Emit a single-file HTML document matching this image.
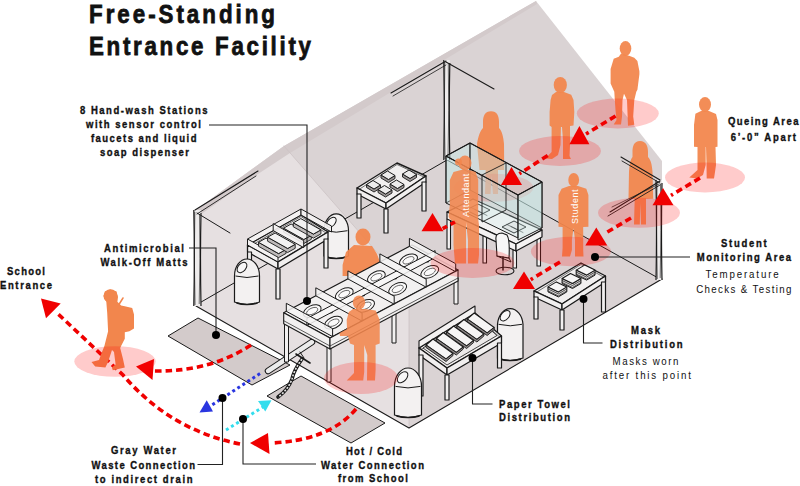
<!DOCTYPE html>
<html><head><meta charset="utf-8">
<style>
html,body{margin:0;padding:0;background:#fff;width:800px;height:486px;overflow:hidden}
svg{display:block}
text{font-family:"Liberation Sans",sans-serif}
.b{font-weight:bold;font-size:10.8px;stroke:#111;stroke-width:0.35px}
.r{font-size:10.8px}
.t{font-weight:bold;font-size:26px;stroke:#111;stroke-width:0.8px}
</style></head><body>
<svg width="800" height="486" viewBox="0 0 800 486">
<polygon points="196.0,210.0 284.0,146.0 536.0,1.0 662.0,161.0 662.0,279.0 409.0,428.0 196.0,306.0" fill="#dad3d4" stroke="none" stroke-width="1" stroke-linejoin="round" />
<polygon points="196.0,210.0 284.0,146.0 409.0,289.0 409.0,428.0 196.0,306.0" fill="#e6e0e1" stroke="none" stroke-width="1" stroke-linejoin="round" />
<polygon points="196.0,210.0 284.0,146.0 536.0,1.0 537.0,4.0 290.0,153.0 258.0,174.0 200.0,215.0" fill="#d3cacb" stroke="none" stroke-width="1" stroke-linejoin="round" />
<polyline points="284.0,146.0 409.0,289.0 409.0,428.0" fill="none" stroke="#cbc3c4" stroke-width="0.8" stroke-linecap="round" stroke-linejoin="round" />
<polygon points="168.0,336.0 198.0,318.0 290.0,365.0 252.0,385.0" fill="#d3cbcb" stroke="#1a1a1a" stroke-width="1" stroke-linejoin="round" />
<polygon points="267.0,396.0 301.0,376.0 385.0,423.0 351.0,443.0" fill="#d3cbcb" stroke="#1a1a1a" stroke-width="1" stroke-linejoin="round" />
<polyline points="196.0,306.0 409.0,428.0 662.0,279.0" fill="none" stroke="#1a1a1a" stroke-width="1.1" stroke-linecap="round" stroke-linejoin="round" />
<polyline points="196.0,305.0 447.0,160.0" fill="none" stroke="#1a1a1a" stroke-width="1.0" stroke-linecap="round" stroke-linejoin="round" />
<polyline points="447.0,160.0 660.0,279.0" fill="none" stroke="#1a1a1a" stroke-width="1.0" stroke-linecap="round" stroke-linejoin="round" />
<rect x="193.8" y="210" width="7.199999999999989" height="96" fill="#eeecec"/>
<path d="M193.8,210 Q194.8,258.0 193.8,306" fill="none" stroke="#1a1a1a" stroke-width="1.2"/>
<path d="M194.8,212 Q193.8,258.0 195.0,305" fill="none" stroke="#1a1a1a" stroke-width="0.7"/>
<path d="M201,213 Q200,258.0 201,306" fill="none" stroke="#1a1a1a" stroke-width="1.2"/>
<path d="M199.5,214 Q200.5,258.0 199.2,304" fill="none" stroke="#1a1a1a" stroke-width="0.6"/>
<rect x="443.8" y="60" width="6.0" height="100" fill="#eeecec"/>
<path d="M443.8,60 Q444.8,110.0 443.8,160" fill="none" stroke="#1a1a1a" stroke-width="1.2"/>
<path d="M444.8,62 Q443.8,110.0 445.0,159" fill="none" stroke="#1a1a1a" stroke-width="0.7"/>
<path d="M449.8,63 Q448.8,110.0 449.8,160" fill="none" stroke="#1a1a1a" stroke-width="1.2"/>
<path d="M448.3,64 Q449.3,110.0 448.0,158" fill="none" stroke="#1a1a1a" stroke-width="0.6"/>
<rect x="656" y="180" width="6" height="100" fill="#eeecec"/>
<path d="M656,180 Q657,230.0 656,280" fill="none" stroke="#1a1a1a" stroke-width="1.2"/>
<path d="M657,182 Q656,230.0 657.2,279" fill="none" stroke="#1a1a1a" stroke-width="0.7"/>
<path d="M662,183 Q661,230.0 662,280" fill="none" stroke="#1a1a1a" stroke-width="1.2"/>
<path d="M660.5,184 Q661.5,230.0 660.2,278" fill="none" stroke="#1a1a1a" stroke-width="0.6"/>
<polyline points="195.0,210.0 258.0,171.0" fill="none" stroke="#1a1a1a" stroke-width="1.1" stroke-linecap="round" stroke-linejoin="round" />
<polyline points="197.0,214.0 256.0,176.0" fill="none" stroke="#1a1a1a" stroke-width="0.9" stroke-linecap="round" stroke-linejoin="round" />
<polyline points="197.0,213.0 230.0,233.0" fill="none" stroke="#1a1a1a" stroke-width="1.0" stroke-linecap="round" stroke-linejoin="round" />
<polyline points="391.0,93.0 446.0,61.0" fill="none" stroke="#1a1a1a" stroke-width="1.1" stroke-linecap="round" stroke-linejoin="round" />
<polyline points="393.0,96.0 446.0,65.0" fill="none" stroke="#1a1a1a" stroke-width="0.8" stroke-linecap="round" stroke-linejoin="round" />
<polyline points="446.0,62.0 494.0,89.0" fill="none" stroke="#1a1a1a" stroke-width="1.1" stroke-linecap="round" stroke-linejoin="round" />
<path d="M268,371 L312,342" fill="none" stroke="#1a1a1a" stroke-width="6.5" stroke-linecap="round"/>
<path d="M268,371 L312,342" fill="none" stroke="#ececec" stroke-width="4.5" stroke-linecap="round"/>
<polyline points="300.0,352.0 304.0,358.0" fill="none" stroke="#1a1a1a" stroke-width="1" stroke-linecap="round" stroke-linejoin="round" />
<path d="M302,359 Q294,370 292,379 Q288,390 278,397" fill="none" stroke="#1a1a1a" stroke-width="3.6" stroke-linecap="round"/>
<path d="M302,359 Q294,370 292,379 Q288,390 278,397" fill="none" stroke="#e5e5e5" stroke-width="1.6" stroke-dasharray="2 1.5"/>
<polyline points="296.0,354.0 310.0,363.0" fill="none" stroke="#1a1a1a" stroke-width="1.6" stroke-linecap="round" stroke-linejoin="round" />
<path d="M324,230.7 A12.2,16.7 0 0 1 348.5,230.7 L348.5,256 Q336.25,261 324,256 Z" fill="#f3f1f1" stroke="#1a1a1a" stroke-width="1.2"/>
<path d="M325,230.7 Q336.25,233.7 347.5,230.7" fill="none" stroke="#1a1a1a" stroke-width="1"/>
<ellipse cx="331.4" cy="222.3" rx="5.9" ry="3.7" transform="rotate(-48 331.4 222.3)" fill="#f8f7f7" stroke="#1a1a1a" stroke-width="1"/>
<path d="M326,257 Q336.25,260 346.5,257" fill="none" stroke="#1a1a1a" stroke-width="1.6"/>
<polygon points="247.5,245.0 301.0,215.0 328.0,232.0 278.0,262.0" fill="#f1efef" stroke="#1a1a1a" stroke-width="1.4" stroke-linejoin="round" />
<polygon points="247.5,245.0 278.0,262.0 278.0,269.0 247.5,252.0" fill="#f1efef" stroke="#1a1a1a" stroke-width="1.3" stroke-linejoin="round" />
<polygon points="278.0,262.0 328.0,232.0 328.0,239.0 278.0,269.0" fill="#f1efef" stroke="#1a1a1a" stroke-width="1.3" stroke-linejoin="round" />
<polyline points="249.5,246.5 301.0,216.5 326.0,233.0" fill="none" stroke="#1a1a1a" stroke-width="0.6" stroke-linecap="round" stroke-linejoin="round" />
<polygon points="247.5,252.0 251.5,252.0 251.5,283.0 247.5,283.0" fill="#f1efef" stroke="#1a1a1a" stroke-width="1.2" stroke-linejoin="round" />
<polygon points="276.0,269.0 280.0,269.0 280.0,299.0 276.0,299.0" fill="#f1efef" stroke="#1a1a1a" stroke-width="1.2" stroke-linejoin="round" />
<polygon points="324.0,239.0 328.0,239.0 328.0,268.0 324.0,268.0" fill="#f1efef" stroke="#1a1a1a" stroke-width="1.2" stroke-linejoin="round" />
<polygon points="247.5,245.0 301.0,215.0 301.0,209.0 247.5,239.0" fill="#f4f2f2" stroke="#1a1a1a" stroke-width="1.0" stroke-linejoin="round" />
<polygon points="247.5,245.0 278.0,262.0 278.0,256.0 247.5,239.0" fill="#f4f2f2" stroke="#1a1a1a" stroke-width="1.0" stroke-linejoin="round" />
<polygon points="258.5,242.3 278.6,253.6 286.1,249.4 286.1,253.4 278.6,257.6 258.5,246.3" fill="#bdb9b9" stroke="#1a1a1a" stroke-width="0.9" stroke-linejoin="round" />
<polygon points="258.5,242.3 266.0,238.1 286.1,249.4 278.6,253.6" fill="#f2f1f1" stroke="#1a1a1a" stroke-width="1.0" stroke-linejoin="round" />
<polygon points="267.6,237.2 287.7,248.5 295.2,244.3 295.2,248.3 287.7,252.5 267.6,241.2" fill="#bdb9b9" stroke="#1a1a1a" stroke-width="0.9" stroke-linejoin="round" />
<polygon points="267.6,237.2 275.1,233.0 295.2,244.3 287.7,248.5" fill="#f2f1f1" stroke="#1a1a1a" stroke-width="1.0" stroke-linejoin="round" />
<polygon points="283.6,228.2 303.8,239.5 311.3,235.3 311.3,239.3 303.8,243.5 283.6,232.2" fill="#bdb9b9" stroke="#1a1a1a" stroke-width="0.9" stroke-linejoin="round" />
<polygon points="283.6,228.2 291.1,224.0 311.3,235.3 303.8,239.5" fill="#f2f1f1" stroke="#1a1a1a" stroke-width="1.0" stroke-linejoin="round" />
<polygon points="293.3,222.8 313.4,234.1 320.9,229.9 320.9,233.9 313.4,238.1 293.3,226.8" fill="#bdb9b9" stroke="#1a1a1a" stroke-width="0.9" stroke-linejoin="round" />
<polygon points="293.3,222.8 300.8,218.6 320.9,229.9 313.4,234.1" fill="#f2f1f1" stroke="#1a1a1a" stroke-width="1.0" stroke-linejoin="round" />
<polygon points="273.2,230.6 303.7,247.6 303.7,240.6 273.2,223.6" fill="#f4f2f2" stroke="#1a1a1a" stroke-width="1.0" stroke-linejoin="round" fill-opacity="0.9"/>
<polygon points="301.0,215.0 331.5,232.0 331.5,226.0 301.0,209.0" fill="#f4f2f2" stroke="#1a1a1a" stroke-width="1.0" stroke-linejoin="round" fill-opacity="0.9"/>
<path d="M234.5,276.0 A12.5,17.0 0 0 1 259.5,276.0 L259.5,302 Q247.0,307 234.5,302 Z" fill="#f3f1f1" stroke="#1a1a1a" stroke-width="1.2"/>
<path d="M235.5,276.0 Q247.0,279.0 258.5,276.0" fill="none" stroke="#1a1a1a" stroke-width="1"/>
<ellipse cx="242.0" cy="267.5" rx="6.0" ry="3.8" transform="rotate(-48 242.0 267.5)" fill="#f8f7f7" stroke="#1a1a1a" stroke-width="1"/>
<path d="M236.5,303 Q247.0,306 257.5,303" fill="none" stroke="#1a1a1a" stroke-width="1.6"/>
<polygon points="357.0,188.0 397.0,163.0 426.0,176.0 386.0,203.0" fill="#f1efef" stroke="#1a1a1a" stroke-width="1.4" stroke-linejoin="round" />
<polygon points="357.0,188.0 386.0,203.0 386.0,209.0 357.0,194.0" fill="#f1efef" stroke="#1a1a1a" stroke-width="1.3" stroke-linejoin="round" />
<polygon points="386.0,203.0 426.0,176.0 426.0,182.0 386.0,209.0" fill="#f1efef" stroke="#1a1a1a" stroke-width="1.3" stroke-linejoin="round" />
<polyline points="359.0,189.5 397.0,164.5 424.0,177.0" fill="none" stroke="#1a1a1a" stroke-width="0.6" stroke-linecap="round" stroke-linejoin="round" />
<polygon points="357.0,194.0 361.0,194.0 361.0,218.0 357.0,218.0" fill="#f1efef" stroke="#1a1a1a" stroke-width="1.2" stroke-linejoin="round" />
<polygon points="384.0,209.0 388.0,209.0 388.0,233.0 384.0,233.0" fill="#f1efef" stroke="#1a1a1a" stroke-width="1.2" stroke-linejoin="round" />
<polygon points="422.0,182.0 426.0,182.0 426.0,211.0 422.0,211.0" fill="#f1efef" stroke="#1a1a1a" stroke-width="1.2" stroke-linejoin="round" />
<polygon points="366.5,184.5 374.0,189.0 380.5,185.0 380.5,188.0 374.0,192.0 366.5,187.5" fill="#9a9595" stroke="#1a1a1a" stroke-width="0.9" stroke-linejoin="round" />
<polygon points="366.5,184.5 373.0,180.5 380.5,185.0 374.0,189.0" fill="#ecebeb" stroke="#1a1a1a" stroke-width="1.0" stroke-linejoin="round" />
<polygon points="381.0,175.0 388.5,179.5 395.0,175.5 395.0,178.5 388.5,182.5 381.0,178.0" fill="#9a9595" stroke="#1a1a1a" stroke-width="0.9" stroke-linejoin="round" />
<polygon points="381.0,175.0 387.5,171.0 395.0,175.5 388.5,179.5" fill="#ecebeb" stroke="#1a1a1a" stroke-width="1.0" stroke-linejoin="round" />
<polygon points="402.5,174.0 410.0,178.5 416.5,174.5 416.5,177.5 410.0,181.5 402.5,177.0" fill="#9a9595" stroke="#1a1a1a" stroke-width="0.9" stroke-linejoin="round" />
<polygon points="402.5,174.0 409.0,170.0 416.5,174.5 410.0,178.5" fill="#ecebeb" stroke="#1a1a1a" stroke-width="1.0" stroke-linejoin="round" />
<polygon points="390.0,184.0 397.5,188.5 404.0,184.5 404.0,187.5 397.5,191.5 390.0,187.0" fill="#9a9595" stroke="#1a1a1a" stroke-width="0.9" stroke-linejoin="round" />
<polygon points="390.0,184.0 396.5,180.0 404.0,184.5 397.5,188.5" fill="#ecebeb" stroke="#1a1a1a" stroke-width="1.0" stroke-linejoin="round" />
<polygon points="378.0,189.5 385.5,194.0 392.0,190.0 392.0,193.0 385.5,197.0 378.0,192.5" fill="#9a9595" stroke="#1a1a1a" stroke-width="0.9" stroke-linejoin="round" />
<polygon points="378.0,189.5 384.5,185.5 392.0,190.0 385.5,194.0" fill="#ecebeb" stroke="#1a1a1a" stroke-width="1.0" stroke-linejoin="round" />
<ellipse cx="363" cy="237" rx="7.5" ry="8.5" fill="#f2864d" fill-opacity="0.94"/>
<polygon points="354.0,245.0 372.0,246.0 377.0,254.0 380.0,262.0 386.0,266.0 385.0,272.0 375.0,271.0 372.0,276.0 342.6,276.0 342.6,265.0 346.0,252.0" fill="#f2864d" fill-opacity="0.94"/>
<polygon points="284.5,320.0 288.5,320.0 288.5,362.0 284.5,362.0" fill="#f2f0f0" stroke="#1a1a1a" stroke-width="1.0" stroke-linejoin="round" />
<polygon points="327.0,346.0 331.0,346.0 331.0,382.0 327.0,382.0" fill="#f2f0f0" stroke="#1a1a1a" stroke-width="1.0" stroke-linejoin="round" />
<polygon points="392.0,311.0 396.0,311.0 396.0,343.0 392.0,343.0" fill="#f2f0f0" stroke="#1a1a1a" stroke-width="1.0" stroke-linejoin="round" />
<polygon points="454.0,278.0 458.0,278.0 458.0,304.0 454.0,304.0" fill="#f2f0f0" stroke="#1a1a1a" stroke-width="1.0" stroke-linejoin="round" />
<polygon points="352.0,288.0 356.0,288.0 356.0,308.0 352.0,308.0" fill="#f2f0f0" stroke="#1a1a1a" stroke-width="1.0" stroke-linejoin="round" />
<polygon points="283.7,312.7 412.0,245.0 458.0,270.0 330.0,338.0" fill="#f2f0f0" stroke="#1a1a1a" stroke-width="1.2" stroke-linejoin="round" />
<polygon points="283.7,312.7 330.0,338.0 330.0,349.0 283.7,323.7" fill="#f2f0f0" stroke="#1a1a1a" stroke-width="1.1" stroke-linejoin="round" />
<polygon points="330.0,338.0 458.0,270.0 458.0,281.0 330.0,349.0" fill="#f2f0f0" stroke="#1a1a1a" stroke-width="1.1" stroke-linejoin="round" />
<polyline points="283.7,320.7 330.0,346.0 458.0,278.0" fill="none" stroke="#1a1a1a" stroke-width="0.7" stroke-linecap="round" stroke-linejoin="round" />
<ellipse cx="312.2" cy="311.1" rx="9.5" ry="5.5" transform="rotate(-25 312.2 311.1)" fill="#fbfafa" stroke="#1a1a1a" stroke-width="1"/>
<ellipse cx="312.2" cy="311.1" rx="6" ry="3" transform="rotate(-25 312.2 311.1)" fill="none" stroke="#1a1a1a" stroke-width="0.6"/>
<circle cx="325.0" cy="311.2" r="2.2" fill="#222"/>
<ellipse cx="344.3" cy="294.1" rx="9.5" ry="5.5" transform="rotate(-25 344.3 294.1)" fill="#fbfafa" stroke="#1a1a1a" stroke-width="1"/>
<ellipse cx="344.3" cy="294.1" rx="6" ry="3" transform="rotate(-25 344.3 294.1)" fill="none" stroke="#1a1a1a" stroke-width="0.6"/>
<circle cx="357.1" cy="294.3" r="2.2" fill="#222"/>
<ellipse cx="376.4" cy="277.2" rx="9.5" ry="5.5" transform="rotate(-25 376.4 277.2)" fill="#fbfafa" stroke="#1a1a1a" stroke-width="1"/>
<ellipse cx="376.4" cy="277.2" rx="6" ry="3" transform="rotate(-25 376.4 277.2)" fill="none" stroke="#1a1a1a" stroke-width="0.6"/>
<circle cx="389.2" cy="277.3" r="2.2" fill="#222"/>
<ellipse cx="408.5" cy="260.3" rx="9.5" ry="5.5" transform="rotate(-25 408.5 260.3)" fill="#fbfafa" stroke="#1a1a1a" stroke-width="1"/>
<ellipse cx="408.5" cy="260.3" rx="6" ry="3" transform="rotate(-25 408.5 260.3)" fill="none" stroke="#1a1a1a" stroke-width="0.6"/>
<circle cx="421.2" cy="260.4" r="2.2" fill="#222"/>
<ellipse cx="333.5" cy="322.7" rx="9.5" ry="5.5" transform="rotate(-25 333.5 322.7)" fill="#fbfafa" stroke="#1a1a1a" stroke-width="1"/>
<ellipse cx="333.5" cy="322.7" rx="6" ry="3" transform="rotate(-25 333.5 322.7)" fill="none" stroke="#1a1a1a" stroke-width="0.6"/>
<circle cx="331.0" cy="311.2" r="2.2" fill="#222"/>
<ellipse cx="365.6" cy="305.8" rx="9.5" ry="5.5" transform="rotate(-25 365.6 305.8)" fill="#fbfafa" stroke="#1a1a1a" stroke-width="1"/>
<ellipse cx="365.6" cy="305.8" rx="6" ry="3" transform="rotate(-25 365.6 305.8)" fill="none" stroke="#1a1a1a" stroke-width="0.6"/>
<circle cx="363.1" cy="294.3" r="2.2" fill="#222"/>
<ellipse cx="397.7" cy="288.9" rx="9.5" ry="5.5" transform="rotate(-25 397.7 288.9)" fill="#fbfafa" stroke="#1a1a1a" stroke-width="1"/>
<ellipse cx="397.7" cy="288.9" rx="6" ry="3" transform="rotate(-25 397.7 288.9)" fill="none" stroke="#1a1a1a" stroke-width="0.6"/>
<circle cx="395.2" cy="277.3" r="2.2" fill="#222"/>
<ellipse cx="429.8" cy="271.9" rx="9.5" ry="5.5" transform="rotate(-25 429.8 271.9)" fill="#fbfafa" stroke="#1a1a1a" stroke-width="1"/>
<ellipse cx="429.8" cy="271.9" rx="6" ry="3" transform="rotate(-25 429.8 271.9)" fill="none" stroke="#1a1a1a" stroke-width="0.6"/>
<circle cx="427.2" cy="260.4" r="2.2" fill="#222"/>
<polygon points="306.9,325.4 435.1,257.6 435.1,250.6 306.9,318.4" fill="#f7f6f6" stroke="#1a1a1a" stroke-width="1.0" stroke-linejoin="round" />
<polygon points="286.3,311.3 332.6,336.6 332.6,328.6 286.3,303.3" fill="#f5f3f3" stroke="#1a1a1a" stroke-width="1.0" stroke-linejoin="round" fill-opacity="0.85"/>
<polygon points="315.8,295.8 362.1,321.1 362.1,313.1 315.8,287.8" fill="#f5f3f3" stroke="#1a1a1a" stroke-width="1.0" stroke-linejoin="round" fill-opacity="0.85"/>
<polygon points="347.9,278.9 394.2,304.2 394.2,296.2 347.9,270.9" fill="#f5f3f3" stroke="#1a1a1a" stroke-width="1.0" stroke-linejoin="round" fill-opacity="0.85"/>
<polygon points="379.9,261.9 426.2,287.2 426.2,279.2 379.9,253.9" fill="#f5f3f3" stroke="#1a1a1a" stroke-width="1.0" stroke-linejoin="round" fill-opacity="0.85"/>
<polygon points="409.4,246.4 455.7,271.7 455.7,263.7 409.4,238.4" fill="#f5f3f3" stroke="#1a1a1a" stroke-width="1.0" stroke-linejoin="round" fill-opacity="0.85"/>
<path d="M491,111.3 C497,111.3 499,116 499,122 L499,128 C502,131 503.5,137 504,144 L504.2,170 L498,170 L498,194 L493,194 L491.5,176 L490.5,194 L485,194 L485.7,170 L479.5,170 L477,144 C478,137 480,131 483,128 L483,122 C483,116 485,111.3 491,111.3 Z" fill="#f2864d" fill-opacity="0.94"/>
<ellipse cx="493.5" cy="187.75" rx="40" ry="14" fill="#ff0808" fill-opacity="0.21"/>
<polygon points="446.0,156.0 470.0,143.0 470.0,190.0 446.0,203.0" fill="#c6e8e6" stroke="#1a1a1a" stroke-width="0.9" stroke-linejoin="round" fill-opacity="0.45"/>
<polygon points="470.0,143.0 542.0,182.0 542.0,228.0 470.0,190.0" fill="#c6e8e6" stroke="#1a1a1a" stroke-width="0.9" stroke-linejoin="round" fill-opacity="0.4"/>
<polygon points="447.0,219.0 450.5,219.0 450.5,249.0 447.0,249.0" fill="#f4f2f2" stroke="#1a1a1a" stroke-width="1.1" stroke-linejoin="round" />
<polygon points="483.0,236.0 486.5,236.0 486.5,263.0 483.0,263.0" fill="#f4f2f2" stroke="#1a1a1a" stroke-width="1.1" stroke-linejoin="round" />
<polygon points="513.0,250.0 516.5,250.0 516.5,268.0 513.0,268.0" fill="#f4f2f2" stroke="#1a1a1a" stroke-width="1.1" stroke-linejoin="round" />
<polygon points="537.0,236.0 540.5,236.0 540.5,266.0 537.0,266.0" fill="#f4f2f2" stroke="#1a1a1a" stroke-width="1.1" stroke-linejoin="round" />
<polygon points="447.0,212.0 473.0,199.0 542.0,230.0 516.0,244.0" fill="#f4f2f2" stroke="#1a1a1a" stroke-width="1.3" stroke-linejoin="round" />
<polygon points="447.0,212.0 516.0,244.0 516.0,251.0 447.0,219.0" fill="#f4f2f2" stroke="#1a1a1a" stroke-width="1.2" stroke-linejoin="round" />
<polygon points="516.0,244.0 542.0,230.0 542.0,237.0 516.0,251.0" fill="#f4f2f2" stroke="#1a1a1a" stroke-width="1.2" stroke-linejoin="round" />
<polygon points="466.0,210.0 478.0,204.0 490.0,210.0 478.0,216.0" fill="#e9e7e7" stroke="#1a1a1a" stroke-width="1.0" stroke-linejoin="round" />
<polyline points="471.0,207.5 479.0,211.5" fill="none" stroke="#1a1a1a" stroke-width="0.6" stroke-linecap="round" stroke-linejoin="round" />
<polyline points="475.0,209.5 483.0,213.5" fill="none" stroke="#1a1a1a" stroke-width="0.6" stroke-linecap="round" stroke-linejoin="round" />
<polyline points="479.0,211.5 487.0,215.5" fill="none" stroke="#1a1a1a" stroke-width="0.6" stroke-linecap="round" stroke-linejoin="round" />
<polygon points="502.0,227.0 514.0,221.0 526.0,227.0 514.0,233.0" fill="#e9e7e7" stroke="#1a1a1a" stroke-width="1.0" stroke-linejoin="round" />
<polyline points="507.0,224.5 515.0,228.5" fill="none" stroke="#1a1a1a" stroke-width="0.6" stroke-linecap="round" stroke-linejoin="round" />
<polyline points="511.0,226.5 519.0,230.5" fill="none" stroke="#1a1a1a" stroke-width="0.6" stroke-linecap="round" stroke-linejoin="round" />
<polyline points="515.0,228.5 523.0,232.5" fill="none" stroke="#1a1a1a" stroke-width="0.6" stroke-linecap="round" stroke-linejoin="round" />
<polygon points="446.0,156.0 518.0,195.0 518.0,238.0 446.0,203.0" fill="#c6e8e6" stroke="#1a1a1a" stroke-width="1.0" stroke-linejoin="round" fill-opacity="0.22"/>
<polygon points="518.0,195.0 542.0,182.0 542.0,228.0 518.0,240.0" fill="#c6e8e6" stroke="#1a1a1a" stroke-width="1.0" stroke-linejoin="round" fill-opacity="0.35"/>
<polygon points="482.0,175.0 506.0,163.0 506.0,210.0 482.0,222.0" fill="#c6e8e6" stroke="#1a1a1a" stroke-width="0.9" stroke-linejoin="round" fill-opacity="0.15"/>
<polyline points="446.0,156.0 470.0,143.0 542.0,182.0 518.0,195.0 446.0,156.0" fill="none" stroke="#1a1a1a" stroke-width="1.1" stroke-linecap="round" stroke-linejoin="round" />
<path d="M496,240 Q495,233 502,233 L507,235 Q510,240 509,258 L497,256 Z" fill="#f7f6f6" stroke="#1a1a1a" stroke-width="1.1"/>
<ellipse cx="505" cy="271" rx="9" ry="3.8" fill="none" stroke="#1a1a1a" stroke-width="1.1"/>
<polyline points="503.0,257.0 503.0,270.0" fill="none" stroke="#1a1a1a" stroke-width="1.5" stroke-linecap="round" stroke-linejoin="round" />
<polyline points="497.0,256.0 511.0,262.0 509.0,258.0" fill="none" stroke="#1a1a1a" stroke-width="1.0" stroke-linecap="round" stroke-linejoin="round" />
<polygon points="534.0,291.0 581.0,263.0 605.5,276.0 562.0,304.0" fill="#f1efef" stroke="#1a1a1a" stroke-width="1.4" stroke-linejoin="round" />
<polygon points="534.0,291.0 562.0,304.0 562.0,310.0 534.0,297.0" fill="#f1efef" stroke="#1a1a1a" stroke-width="1.3" stroke-linejoin="round" />
<polygon points="562.0,304.0 605.5,276.0 605.5,282.0 562.0,310.0" fill="#f1efef" stroke="#1a1a1a" stroke-width="1.3" stroke-linejoin="round" />
<polyline points="536.0,292.5 581.0,264.5 603.5,277.0" fill="none" stroke="#1a1a1a" stroke-width="0.6" stroke-linecap="round" stroke-linejoin="round" />
<polygon points="534.0,297.0 538.0,297.0 538.0,319.0 534.0,319.0" fill="#f1efef" stroke="#1a1a1a" stroke-width="1.2" stroke-linejoin="round" />
<polygon points="560.0,310.0 564.0,310.0 564.0,330.0 560.0,330.0" fill="#f1efef" stroke="#1a1a1a" stroke-width="1.2" stroke-linejoin="round" />
<polygon points="601.5,282.0 605.5,282.0 605.5,312.0 601.5,312.0" fill="#f1efef" stroke="#1a1a1a" stroke-width="1.2" stroke-linejoin="round" />
<polygon points="548.0,286.9 558.4,291.9 566.8,286.9 566.8,291.9 558.4,296.9 548.0,291.9" fill="#d9d6d6" stroke="#1a1a1a" stroke-width="1.0" stroke-linejoin="round" />
<polyline points="548.0,288.9 558.4,293.9 566.8,288.9" fill="none" stroke="#1a1a1a" stroke-width="0.7" stroke-linecap="round" stroke-linejoin="round" />
<polyline points="548.0,290.9 558.4,295.9 566.8,290.9" fill="none" stroke="#1a1a1a" stroke-width="0.7" stroke-linecap="round" stroke-linejoin="round" />
<polygon points="548.0,286.9 556.4,281.9 566.8,286.9 558.4,291.9" fill="#f7f6f6" stroke="#1a1a1a" stroke-width="1.1" stroke-linejoin="round" />
<polygon points="562.1,278.5 572.5,283.5 580.9,278.5 580.9,283.5 572.5,288.5 562.1,283.5" fill="#d9d6d6" stroke="#1a1a1a" stroke-width="1.0" stroke-linejoin="round" />
<polyline points="562.1,280.5 572.5,285.5 580.9,280.5" fill="none" stroke="#1a1a1a" stroke-width="0.7" stroke-linecap="round" stroke-linejoin="round" />
<polyline points="562.1,282.5 572.5,287.5 580.9,282.5" fill="none" stroke="#1a1a1a" stroke-width="0.7" stroke-linecap="round" stroke-linejoin="round" />
<polygon points="562.1,278.5 570.5,273.5 580.9,278.5 572.5,283.5" fill="#f7f6f6" stroke="#1a1a1a" stroke-width="1.1" stroke-linejoin="round" />
<polygon points="576.2,270.1 586.6,275.1 595.0,270.1 595.0,275.1 586.6,280.1 576.2,275.1" fill="#d9d6d6" stroke="#1a1a1a" stroke-width="1.0" stroke-linejoin="round" />
<polyline points="576.2,272.1 586.6,277.1 595.0,272.1" fill="none" stroke="#1a1a1a" stroke-width="0.7" stroke-linecap="round" stroke-linejoin="round" />
<polyline points="576.2,274.1 586.6,279.1 595.0,274.1" fill="none" stroke="#1a1a1a" stroke-width="0.7" stroke-linecap="round" stroke-linejoin="round" />
<polygon points="576.2,270.1 584.6,265.1 595.0,270.1 586.6,275.1" fill="#f7f6f6" stroke="#1a1a1a" stroke-width="1.1" stroke-linejoin="round" />
<path d="M497.5,324.3 A12.8,17.3 0 0 1 523,324.3 L523,358 Q510.25,363 497.5,358 Z" fill="#f3f1f1" stroke="#1a1a1a" stroke-width="1.2"/>
<path d="M498.5,324.3 Q510.25,327.3 522,324.3" fill="none" stroke="#1a1a1a" stroke-width="1"/>
<ellipse cx="505.1" cy="315.7" rx="6.1" ry="3.8" transform="rotate(-48 505.1 315.7)" fill="#f8f7f7" stroke="#1a1a1a" stroke-width="1"/>
<path d="M499.5,359 Q510.25,362 521,359" fill="none" stroke="#1a1a1a" stroke-width="1.6"/>
<polygon points="419.0,348.0 475.0,313.0 501.5,336.0 447.0,368.0" fill="#f1efef" stroke="#1a1a1a" stroke-width="1.4" stroke-linejoin="round" />
<polygon points="419.0,348.0 447.0,368.0 447.0,375.0 419.0,355.0" fill="#f1efef" stroke="#1a1a1a" stroke-width="1.3" stroke-linejoin="round" />
<polygon points="447.0,368.0 501.5,336.0 501.5,343.0 447.0,375.0" fill="#f1efef" stroke="#1a1a1a" stroke-width="1.3" stroke-linejoin="round" />
<polyline points="421.0,349.5 475.0,314.5 499.5,337.0" fill="none" stroke="#1a1a1a" stroke-width="0.6" stroke-linecap="round" stroke-linejoin="round" />
<polygon points="419.0,355.0 423.0,355.0 423.0,396.0 419.0,396.0" fill="#f1efef" stroke="#1a1a1a" stroke-width="1.2" stroke-linejoin="round" />
<polygon points="445.0,375.0 449.0,375.0 449.0,400.0 445.0,400.0" fill="#f1efef" stroke="#1a1a1a" stroke-width="1.2" stroke-linejoin="round" />
<polygon points="497.5,343.0 501.5,343.0 501.5,368.0 497.5,368.0" fill="#f1efef" stroke="#1a1a1a" stroke-width="1.2" stroke-linejoin="round" />
<polygon points="419.0,348.0 475.0,313.0 475.0,306.0 419.0,341.0" fill="#f4f2f2" stroke="#1a1a1a" stroke-width="1.1" stroke-linejoin="round" />
<polygon points="423.0,348.0 475.0,316.5 497.0,335.5 447.0,365.0" fill="#eceaea" stroke="#1a1a1a" stroke-width="0.8" stroke-linejoin="round" />
<polygon points="426.0,345.0 433.0,339.0 453.0,353.5 446.0,359.0" fill="#f6f5f5" stroke="#1a1a1a" stroke-width="1.1" stroke-linejoin="round" />
<polygon points="446.0,359.0 453.0,353.5 453.0,355.5 446.0,361.5 426.0,347.5 426.0,345.0" fill="#8f8a8a" stroke="#1a1a1a" stroke-width="0.9" stroke-linejoin="round" />
<polygon points="436.3,338.5 443.3,332.5 463.3,347.0 456.3,352.5" fill="#f6f5f5" stroke="#1a1a1a" stroke-width="1.1" stroke-linejoin="round" />
<polygon points="456.3,352.5 463.3,347.0 463.3,349.0 456.3,355.0 436.3,341.0 436.3,338.5" fill="#8f8a8a" stroke="#1a1a1a" stroke-width="0.9" stroke-linejoin="round" />
<polygon points="446.6,332.0 453.6,326.0 473.6,340.5 466.6,346.0" fill="#f6f5f5" stroke="#1a1a1a" stroke-width="1.1" stroke-linejoin="round" />
<polygon points="466.6,346.0 473.6,340.5 473.6,342.5 466.6,348.5 446.6,334.5 446.6,332.0" fill="#8f8a8a" stroke="#1a1a1a" stroke-width="0.9" stroke-linejoin="round" />
<polygon points="456.9,325.5 463.9,319.5 483.9,334.0 476.9,339.5" fill="#f6f5f5" stroke="#1a1a1a" stroke-width="1.1" stroke-linejoin="round" />
<polygon points="476.9,339.5 483.9,334.0 483.9,336.0 476.9,342.0 456.9,328.0 456.9,325.5" fill="#8f8a8a" stroke="#1a1a1a" stroke-width="0.9" stroke-linejoin="round" />
<polygon points="467.2,319.0 474.2,313.0 494.2,327.5 487.2,333.0" fill="#f6f5f5" stroke="#1a1a1a" stroke-width="1.1" stroke-linejoin="round" />
<polygon points="487.2,333.0 494.2,327.5 494.2,329.5 487.2,335.5 467.2,321.5 467.2,319.0" fill="#8f8a8a" stroke="#1a1a1a" stroke-width="0.9" stroke-linejoin="round" />
<path d="M394.5,386.4 A13.5,18.4 0 0 1 421.5,386.4 L421.5,415 Q408.0,420 394.5,415 Z" fill="#f3f1f1" stroke="#1a1a1a" stroke-width="1.2"/>
<path d="M395.5,386.4 Q408.0,389.4 420.5,386.4" fill="none" stroke="#1a1a1a" stroke-width="1"/>
<ellipse cx="402.6" cy="377.2" rx="6.5" ry="4.0" transform="rotate(-48 402.6 377.2)" fill="#f8f7f7" stroke="#1a1a1a" stroke-width="1"/>
<path d="M396.5,416 Q408.0,419 419.5,416" fill="none" stroke="#1a1a1a" stroke-width="1.6"/>
<ellipse cx="625.5" cy="48.5" rx="5.8" ry="7.5" fill="#f2864d" fill-opacity="0.94"/>
<polygon points="620.9,53.7 629.1,55.7 634.3,57.8 637.4,60.9 639.4,71.2 639.4,74.3 637.4,89.7 636.3,91.8 634.3,100.0 633.2,116.5 634.3,124.7 628.0,125.7 627.0,100.0 624.0,93.8 622.5,100.0 622.0,116.5 621.0,124.5 613.7,124.5 616.5,120.0 615.5,110.0 614.7,98.0 614.3,91.8 610.6,83.5 610.6,69.1 613.7,58.8 618.8,56.8" fill="#f2864d" fill-opacity="0.94"/>
<ellipse cx="560.3" cy="85" rx="6.6" ry="8" fill="#f2864d" fill-opacity="0.94"/>
<polygon points="556.0,92.0 564.0,92.0 571.2,94.7 573.5,100.0 574.3,112.0 573.5,125.6 570.0,126.0 570.0,145.0 569.5,156.0 571.0,159.0 563.0,159.0 563.0,140.0 562.0,127.0 560.9,127.0 560.5,145.0 558.0,155.0 552.0,159.0 545.4,158.5 551.6,152.0 551.6,127.0 549.6,125.6 549.6,112.0 550.6,100.0 552.0,95.0" fill="#f2864d" fill-opacity="0.94"/>
<ellipse cx="705" cy="104.5" rx="6" ry="7.5" fill="#f2864d" fill-opacity="0.94"/>
<polygon points="701.0,111.0 709.0,111.0 716.0,114.0 717.5,120.0 717.5,146.7 715.5,147.0 716.0,165.0 715.0,172.0 714.0,178.6 706.7,178.6 706.5,165.0 706.0,147.0 705.7,147.0 705.7,165.0 703.0,175.0 697.0,178.6 689.3,177.6 697.5,170.0 697.5,147.0 694.0,146.7 694.0,125.0 695.4,113.8" fill="#f2864d" fill-opacity="0.94"/>
<path d="M640,141 C646,141 648,146 648,152 L648,157 C651,160 652,165 652.5,172 L653.2,198.8 L646,198.8 L646,224.5 L641,224.5 L640.3,203 L639.8,224.5 L634,224.5 L634.7,198.8 L628.5,198.8 L629,172 C629.5,165 630,160 632.5,157 L632.5,152 C632.5,146 634,141 640,141 Z" fill="#f2864d" fill-opacity="0.94"/>
<ellipse cx="573.7" cy="180" rx="5.4" ry="7" fill="#f2864d" fill-opacity="0.94"/>
<polygon points="569.0,186.0 578.0,186.0 586.3,188.7 588.4,195.0 588.4,226.8 583.2,227.0 583.2,250.0 583.5,256.6 575.0,256.6 575.0,240.0 573.5,228.0 571.9,240.0 571.9,250.0 570.0,256.6 562.0,256.6 562.6,248.0 562.6,227.0 558.5,226.8 558.5,195.0 561.6,188.7" fill="#f2864d" fill-opacity="0.94"/>
<ellipse cx="465" cy="163" rx="6.5" ry="7.5" fill="#f2864d" fill-opacity="0.88"/>
<ellipse cx="458.5" cy="162" rx="3.5" ry="3.5" fill="#f2864d" fill-opacity="0.88"/>
<polygon points="461.0,170.0 469.0,170.0 475.7,172.0 478.2,180.0 478.2,219.0 479.0,225.0 479.0,255.0 478.0,263.6 468.0,263.6 468.0,240.0 466.0,222.0 466.0,245.0 466.0,263.6 455.0,263.6 453.5,245.0 453.5,222.0 449.8,219.0 448.6,216.7 449.8,205.0 449.8,180.0 453.5,172.0" fill="#f2864d" fill-opacity="0.88"/>
<ellipse cx="359" cy="302.5" rx="6.2" ry="7" fill="#f2864d" fill-opacity="0.88"/>
<polygon points="353.0,309.0 365.0,309.0 375.6,310.6 379.7,320.0 379.7,343.5 375.6,345.0 375.6,370.0 375.0,380.5 367.0,380.5 367.3,355.0 364.2,345.0 364.2,372.0 363.2,380.5 346.7,380.5 354.0,373.0 354.0,345.0 350.0,343.5 348.0,336.0 340.0,336.0 339.5,333.0 347.0,329.0 346.7,320.0 348.8,312.0" fill="#f2864d" fill-opacity="0.88"/>
<polyline points="660.0,180.0 621.0,157.0" fill="none" stroke="#1a1a1a" stroke-width="1.1" stroke-linecap="round" stroke-linejoin="round" />
<polyline points="660.0,183.0 622.0,161.0" fill="none" stroke="#1a1a1a" stroke-width="0.9" stroke-linecap="round" stroke-linejoin="round" />
<polyline points="660.0,181.0 610.0,212.0" fill="none" stroke="#1a1a1a" stroke-width="1.1" stroke-linecap="round" stroke-linejoin="round" />
<polyline points="660.0,185.0 608.0,216.0" fill="none" stroke="#1a1a1a" stroke-width="0.9" stroke-linecap="round" stroke-linejoin="round" />
<polyline points="659.0,184.0 612.0,207.0" fill="none" stroke="#1a1a1a" stroke-width="0.7" stroke-linecap="round" stroke-linejoin="round" />
<ellipse cx="617.8" cy="113.5" rx="41" ry="15" fill="#ff0808" fill-opacity="0.21"/>
<ellipse cx="560" cy="151" rx="41" ry="15" fill="#ff0808" fill-opacity="0.21"/>
<ellipse cx="639" cy="212.8" rx="41" ry="15" fill="#ff0808" fill-opacity="0.21"/>
<ellipse cx="705" cy="177.5" rx="40" ry="15" fill="#ff0808" fill-opacity="0.21"/>
<ellipse cx="570.9" cy="251.5" rx="40" ry="14.7" fill="#ff0808" fill-opacity="0.21"/>
<ellipse cx="472.5" cy="263" rx="42" ry="15" fill="#ff0808" fill-opacity="0.21"/>
<ellipse cx="361" cy="378" rx="37" ry="16" fill="#ff0808" fill-opacity="0.21"/>
<path d="M615.6,116 L586,134" fill="none" stroke="#f00000" stroke-width="3.6" stroke-dasharray="6.5 4"/>
<polygon points="579.4,126.0 569.4,144.3 589.4,144.3" fill="#f00000" stroke="none" stroke-width="1" stroke-linejoin="round" />
<path d="M547.7,155.6 L519.4,173.7" fill="none" stroke="#f00000" stroke-width="3.6" stroke-dasharray="6.5 4"/>
<polygon points="511.5,167.0 501.0,185.0 522.0,185.0" fill="#f00000" stroke="none" stroke-width="1" stroke-linejoin="round" />
<path d="M700,178 L671,195.4" fill="none" stroke="#f00000" stroke-width="3.6" stroke-dasharray="6.5 4"/>
<polygon points="663.0,188.0 652.5,205.3 673.5,205.3" fill="#f00000" stroke="none" stroke-width="1" stroke-linejoin="round" />
<path d="M631,218 L604,234" fill="none" stroke="#f00000" stroke-width="3.6" stroke-dasharray="6.5 4"/>
<polygon points="596.3,227.5 585.3,245.4 607.3,245.4" fill="#f00000" stroke="none" stroke-width="1" stroke-linejoin="round" />
<path d="M560,262 L530.7,279.6" fill="none" stroke="#f00000" stroke-width="3.6" stroke-dasharray="6.5 4"/>
<polygon points="524.0,271.6 513.0,289.0 535.0,289.0" fill="#f00000" stroke="none" stroke-width="1" stroke-linejoin="round" />
<path d="M455,222 L440,230" fill="none" stroke="#f00000" stroke-width="3.6" stroke-dasharray="5 4"/>
<polygon points="432.5,213.0 421.5,231.3 443.5,231.3" fill="#f00000" stroke="none" stroke-width="1" stroke-linejoin="round" />
<path d="M251,345 Q210,372 154,371" fill="none" stroke="#f00000" stroke-width="3.6" stroke-dasharray="6.5 4"/>
<polygon points="136.0,366.5 154.0,359.0 152.5,380.0" fill="#f00000" stroke="none" stroke-width="1" stroke-linejoin="round" />
<path d="M356,409 Q330,440 272,443" fill="none" stroke="#f00000" stroke-width="3.6" stroke-dasharray="6.5 4"/>
<polygon points="250.0,443.0 268.0,433.0 269.5,454.0" fill="#f00000" stroke="none" stroke-width="1" stroke-linejoin="round" />
<path d="M240,444 Q170,430 123,375 L56,312" fill="none" stroke="#f00000" stroke-width="3.6" stroke-dasharray="6.5 4"/>
<ellipse cx="110.5" cy="296" rx="7" ry="6.8" fill="#f2864d" fill-opacity="1"/>
<polygon points="110.0,289.6 116.5,291.5 118.0,297.0 117.4,301.7 121.1,305.4 124.8,306.3 132.2,308.1 134.0,314.6 134.0,328.5 129.4,331.3 124.8,332.2 124.8,338.7 121.1,346.1 120.2,348.0 123.0,359.0 124.8,367.4 112.8,370.2 111.9,367.4 115.6,364.6 114.0,352.0 112.0,350.0 108.0,362.0 105.4,367.4 95.2,366.5 91.5,361.9 99.0,360.0 102.0,352.0 104.4,346.1 108.1,331.3 107.2,312.8 106.3,301.7 103.5,296.1 105.0,291.5" fill="#f2864d" fill-opacity="1"/>
<polyline points="118.0,306.0 123.0,298.0" fill="none" stroke="#f2864d" stroke-width="1.5" stroke-linecap="round" stroke-linejoin="round" />
<ellipse cx="115" cy="361.5" rx="40.7" ry="15.3" fill="#ff0808" fill-opacity="0.21"/>
<polygon points="41.0,298.5 60.7,303.5 46.0,318.3" fill="#f00000" stroke="none" stroke-width="1" stroke-linejoin="round" />
<path d="M260,373.5 L212,405" fill="none" stroke="#2a36e0" stroke-width="3" stroke-dasharray="3 3"/>
<polygon points="199.5,412.5 213.0,411.5 206.7,400.2" fill="#2a36e0" stroke="none" stroke-width="1" stroke-linejoin="round" />
<path d="M226,430 L263,407" fill="none" stroke="#33dded" stroke-width="3" stroke-dasharray="3 3"/>
<polygon points="258.0,401.0 271.5,400.2 265.3,411.5" fill="#33dded" stroke="none" stroke-width="1" stroke-linejoin="round" />
<text x="0" y="0" transform="translate(469,217) rotate(-90)" style="font-size:9px;letter-spacing:0.6px" fill="#fff">Attendant</text>
<text x="0" y="0" transform="translate(578,224) rotate(-90)" style="font-size:9px;letter-spacing:0.6px" fill="#fff">Student</text>
<g fill="#111">
<text class="t" transform="scale(0.86,1)" x="103.49" y="22.5" textLength="216.3" lengthAdjust="spacing">Free-Standing</text>
<text class="t" transform="scale(0.86,1)" x="103.49" y="54.6" textLength="258.1" lengthAdjust="spacing">Entrance Facility</text>
<text class="b" transform="scale(0.88,1)" x="90.91" y="114" textLength="144.9" lengthAdjust="spacing">8 Hand-wash Stations</text>
<text class="b" transform="scale(0.88,1)" x="97.73" y="128" textLength="130.7" lengthAdjust="spacing">with sensor control</text>
<text class="b" transform="scale(0.88,1)" x="103.41" y="142" textLength="119.9" lengthAdjust="spacing">faucets and liquid</text>
<text class="b" transform="scale(0.88,1)" x="113.64" y="156" textLength="101.1" lengthAdjust="spacing">soap dispenser</text>
<text class="b" transform="scale(0.88,1)" x="118.18" y="252" textLength="90.9" lengthAdjust="spacing">Antimicrobial</text>
<text class="b" transform="scale(0.88,1)" x="114.09" y="266" textLength="99.1" lengthAdjust="spacing">Walk-Off Matts</text>
<text class="b" transform="scale(0.88,1)" x="7.95" y="275" textLength="43.2" lengthAdjust="spacing">School</text>
<text class="b" transform="scale(0.88,1)" x="0.00" y="289" textLength="59.1" lengthAdjust="spacing">Entrance</text>
<text class="b" transform="scale(0.88,1)" x="827.27" y="124.8" textLength="80.1" lengthAdjust="spacing">Queing Area</text>
<text class="b" transform="scale(0.88,1)" x="830.34" y="141.3" textLength="74.2" lengthAdjust="spacing">6’-0” Apart</text>
<text class="b" transform="scale(0.88,1)" x="819.32" y="247" textLength="51.9" lengthAdjust="spacing">Student</text>
<text class="b" transform="scale(0.88,1)" x="791.70" y="261.3" textLength="107.2" lengthAdjust="spacing">Monitoring Area</text>
<text class="r" transform="scale(0.9,1)" x="783.89" y="278.2" textLength="81.3" lengthAdjust="spacing">Temperature</text>
<text class="r" transform="scale(0.9,1)" x="773.56" y="292.6" textLength="105.8" lengthAdjust="spacing">Checks &amp; Testing</text>
<text class="b" transform="scale(0.88,1)" x="717.05" y="334.5" textLength="33.0" lengthAdjust="spacing">Mask</text>
<text class="b" transform="scale(0.88,1)" x="693.18" y="348" textLength="82.4" lengthAdjust="spacing">Distribution</text>
<text class="r" transform="scale(0.9,1)" x="680.56" y="365.5" textLength="73.3" lengthAdjust="spacing">Masks worn</text>
<text class="r" transform="scale(0.9,1)" x="669.44" y="379.5" textLength="98.3" lengthAdjust="spacing">after this point</text>
<text class="b" transform="scale(0.88,1)" x="567.05" y="408" textLength="80.7" lengthAdjust="spacing">Paper Towel</text>
<text class="b" transform="scale(0.88,1)" x="567.05" y="421.5" textLength="80.7" lengthAdjust="spacing">Distribution</text>
<text class="b" transform="scale(0.88,1)" x="126.14" y="454.5" textLength="73.9" lengthAdjust="spacing">Gray Water</text>
<text class="b" transform="scale(0.88,1)" x="103.98" y="469" textLength="117.6" lengthAdjust="spacing">Waste Connection</text>
<text class="b" transform="scale(0.88,1)" x="107.95" y="483" textLength="110.8" lengthAdjust="spacing">to indirect drain</text>
<text class="b" transform="scale(0.88,1)" x="393.18" y="455" textLength="63.6" lengthAdjust="spacing">Hot / Cold</text>
<text class="b" transform="scale(0.88,1)" x="364.77" y="469" textLength="117.0" lengthAdjust="spacing">Water Connection</text>
<text class="b" transform="scale(0.88,1)" x="384.09" y="482" textLength="79.5" lengthAdjust="spacing">from School</text>
</g>
<g fill="none" stroke="#222" stroke-width="1.1">
<polyline points="209.0,125.0 307.0,125.0 307.0,301.0"/>
<polyline points="189.0,248.0 216.0,248.0 216.0,335.0"/>
<polyline points="595.0,257.0 690.0,257.0"/>
<polyline points="583.5,299.0 583.5,343.0 602.5,343.0"/>
<polyline points="472.5,358.0 472.5,404.0 492.5,404.0"/>
<polyline points="222.5,398.0 222.5,464.5 197.5,464.5"/>
<polyline points="243.0,419.0 243.0,464.0 316.0,464.0"/>
</g><g fill="#000">
<circle cx="307" cy="301" r="4"/>
<circle cx="216" cy="335" r="4"/>
<circle cx="595" cy="257" r="4"/>
<circle cx="583.5" cy="299" r="4"/>
<circle cx="472.5" cy="358" r="4"/>
<circle cx="222.5" cy="398" r="4"/>
<circle cx="243" cy="419" r="4"/>
</g>
</svg>
</body></html>
